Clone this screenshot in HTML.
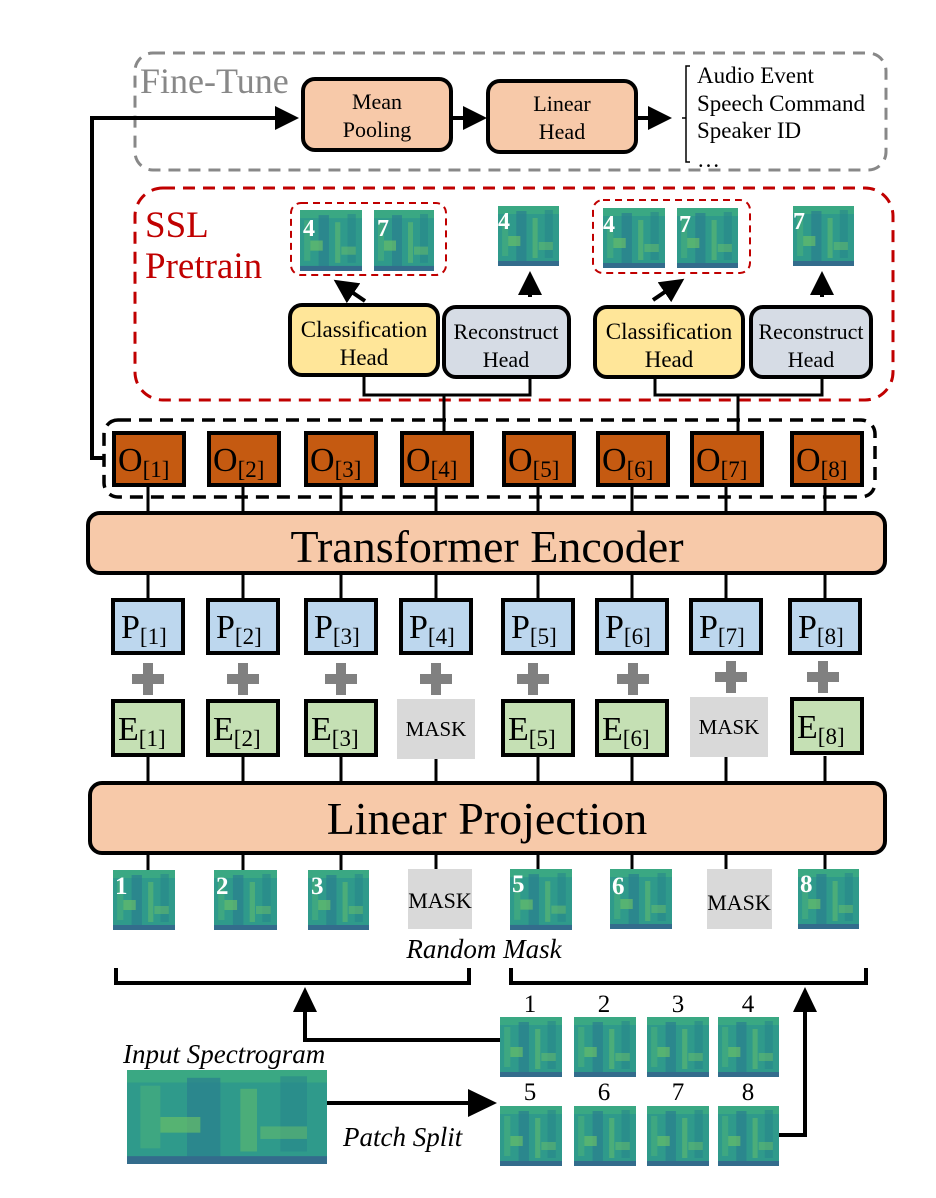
<!DOCTYPE html>
<html><head><meta charset="utf-8"><style>
html,body{margin:0;padding:0;background:#fff}
svg{display:block}
text{font-family:"Liberation Serif",serif}
</style></head><body>
<svg width="936" height="1198" viewBox="0 0 936 1198" xmlns="http://www.w3.org/2000/svg">
<defs>
<symbol id="sp" viewBox="0 0 60 60" preserveAspectRatio="none">
<rect width="60" height="60" fill="#2f9a8b"/>
<rect x="0" y="0" width="60" height="8" fill="#3aa883"/>
<rect x="4" y="10" width="6" height="40" fill="#45ad7e" opacity=".7"/>
<rect x="18" y="5" width="10" height="50" fill="#2a7f8e" opacity=".7"/>
<rect x="34" y="12" width="5" height="40" fill="#5fbb6e" opacity=".6"/>
<rect x="46" y="4" width="8" height="48" fill="#28878c" opacity=".6"/>
<rect x="10" y="30" width="12" height="10" fill="#72c463" opacity=".6"/>
<rect x="40" y="36" width="14" height="8" fill="#6cc067" opacity=".5"/>
<rect x="0" y="55" width="60" height="5" fill="#35588d" opacity=".7"/>
</symbol>
<marker id="ah" markerWidth="6" markerHeight="6" refX="5" refY="3" orient="auto" markerUnits="strokeWidth"><path d="M0,0 L6,3 L0,6 z" fill="#000"/></marker>
</defs>

<!-- Fine-tune -->
<rect x="135" y="53" width="751" height="117" rx="18" fill="none" stroke="#888" stroke-width="3" stroke-dasharray="12,8"/>
<text x="140" y="93" font-size="36" fill="#888">Fine-Tune</text>
<rect x="303" y="79" width="148" height="71" rx="12" fill="#f7c9a9" stroke="#000" stroke-width="4"/>
<text x="377" y="109" font-size="22" text-anchor="middle">Mean</text>
<text x="377" y="137" font-size="22" text-anchor="middle">Pooling</text>
<rect x="488" y="81" width="148" height="71" rx="12" fill="#f7c9a9" stroke="#000" stroke-width="4"/>
<text x="562" y="111" font-size="22" text-anchor="middle">Linear</text>
<text x="562" y="139" font-size="22" text-anchor="middle">Head</text>
<line x1="451" y1="118" x2="483" y2="118" stroke="#000" stroke-width="4" marker-end="url(#ah)"/>
<line x1="636" y1="118" x2="668" y2="118" stroke="#000" stroke-width="4" marker-end="url(#ah)"/>
<path d="M690,66 L686,66 L686,162 L690,162" fill="none" stroke="#000" stroke-width="1.5"/>
<line x1="682" y1="118" x2="686" y2="118" stroke="#000" stroke-width="1.5"/>
<text x="697" y="83" font-size="23">Audio Event</text>
<text x="697" y="111" font-size="23">Speech Command</text>
<text x="697" y="138" font-size="23">Speaker ID</text>
<text x="697" y="167" font-size="23">…</text>
<polyline points="104,458 92,458 92,118 295,118" fill="none" stroke="#000" stroke-width="4" marker-end="url(#ah)"/>

<!-- SSL -->
<rect x="135" y="188" width="758" height="212" rx="28" fill="none" stroke="#c00000" stroke-width="3" stroke-dasharray="12,8"/>
<text x="145" y="237" font-size="37" fill="#c00000">SSL</text>
<text x="145" y="278" font-size="37" fill="#c00000">Pretrain</text>
<rect x="291" y="203" width="155" height="72" rx="10" fill="none" stroke="#c00000" stroke-width="2" stroke-dasharray="7,5"/>
<use href="#sp" x="300" y="210" width="62" height="61"/>
<use href="#sp" x="374" y="210" width="60" height="61"/>
<rect x="593" y="200" width="157" height="73" rx="10" fill="none" stroke="#c00000" stroke-width="2" stroke-dasharray="7,5"/>
<use href="#sp" x="603" y="208" width="62" height="60"/>
<use href="#sp" x="677" y="208" width="61" height="60"/>
<use href="#sp" x="498" y="206" width="61" height="60"/>
<use href="#sp" x="793" y="206" width="61" height="60"/>
<g font-size="24" font-weight="bold" fill="#fff">
<text x="303" y="236">4</text><text x="377" y="236">7</text>
<text x="498" y="229">4</text><text x="603" y="232">4</text>
<text x="679" y="232">7</text><text x="793" y="229">7</text>
</g>
<line x1="365" y1="301" x2="337" y2="282" stroke="#000" stroke-width="4" marker-end="url(#ah)"/>
<line x1="530" y1="297" x2="530" y2="275" stroke="#000" stroke-width="4" marker-end="url(#ah)"/>
<line x1="653" y1="300" x2="681" y2="281" stroke="#000" stroke-width="4" marker-end="url(#ah)"/>
<line x1="822" y1="297" x2="822" y2="275" stroke="#000" stroke-width="4" marker-end="url(#ah)"/>
<polyline points="364,377 364,395 530,395 530,377" fill="none" stroke="#000" stroke-width="3"/>
<line x1="444" y1="395" x2="444" y2="432" stroke="#000" stroke-width="3"/>
<polyline points="655,377 655,395 822,395 822,377" fill="none" stroke="#000" stroke-width="3"/>
<line x1="738" y1="395" x2="738" y2="432" stroke="#000" stroke-width="3"/>
<rect x="290" y="305" width="148" height="70" rx="12" fill="#ffe699" stroke="#000" stroke-width="4"/>
<text x="364" y="337" font-size="23" text-anchor="middle">Classification</text>
<text x="364" y="365" font-size="23" text-anchor="middle">Head</text>
<rect x="444" y="307" width="125" height="70" rx="12" fill="#d6dce5" stroke="#000" stroke-width="4"/>
<text x="506" y="339" font-size="22" text-anchor="middle">Reconstruct</text>
<text x="506" y="367" font-size="22" text-anchor="middle">Head</text>
<rect x="595" y="307" width="148" height="70" rx="12" fill="#ffe699" stroke="#000" stroke-width="4"/>
<text x="669" y="339" font-size="23" text-anchor="middle">Classification</text>
<text x="669" y="367" font-size="23" text-anchor="middle">Head</text>
<rect x="751" y="307" width="120" height="70" rx="12" fill="#d6dce5" stroke="#000" stroke-width="4"/>
<text x="811" y="339" font-size="22" text-anchor="middle">Reconstruct</text>
<text x="811" y="367" font-size="22" text-anchor="middle">Head</text>

<!-- O dashed -->
<rect x="104" y="420" width="771" height="77" rx="14" fill="none" stroke="#000" stroke-width="3.5" stroke-dasharray="13,8"/>

<!-- vertical connectors -->
<g stroke="#000" stroke-width="3">
<line x1="148" y1="485" x2="148" y2="600"/><line x1="243" y1="485" x2="243" y2="600"/>
<line x1="341" y1="485" x2="341" y2="600"/><line x1="436" y1="485" x2="436" y2="600"/>
<line x1="538" y1="485" x2="538" y2="600"/><line x1="632" y1="485" x2="632" y2="600"/>
<line x1="726" y1="485" x2="726" y2="600"/><line x1="825" y1="485" x2="825" y2="600"/>
<line x1="148" y1="756" x2="148" y2="870"/><line x1="243" y1="756" x2="243" y2="870"/>
<line x1="341" y1="756" x2="341" y2="870"/><line x1="436" y1="756" x2="436" y2="870"/>
<line x1="538" y1="756" x2="538" y2="870"/><line x1="632" y1="756" x2="632" y2="870"/>
<line x1="726" y1="756" x2="726" y2="870"/><line x1="825" y1="756" x2="825" y2="870"/>
</g>

<!-- O boxes -->
<g stroke="#000" stroke-width="4" fill="#c55a11">
<rect x="114" y="433" width="70" height="52"/><rect x="209" y="433" width="70" height="52"/>
<rect x="306" y="433" width="70" height="52"/><rect x="402" y="433" width="70" height="52"/>
<rect x="504" y="433" width="70" height="52"/><rect x="598" y="433" width="70" height="52"/>
<rect x="692" y="433" width="70" height="52"/><rect x="792" y="433" width="70" height="52"/>
</g>
<g font-size="34">
<text x="118" y="471">O<tspan font-size="23" dy="6">[1]</tspan></text>
<text x="213" y="471">O<tspan font-size="23" dy="6">[2]</tspan></text>
<text x="310" y="471">O<tspan font-size="23" dy="6">[3]</tspan></text>
<text x="406" y="471">O<tspan font-size="23" dy="6">[4]</tspan></text>
<text x="508" y="471">O<tspan font-size="23" dy="6">[5]</tspan></text>
<text x="602" y="471">O<tspan font-size="23" dy="6">[6]</tspan></text>
<text x="696" y="471">O<tspan font-size="23" dy="6">[7]</tspan></text>
<text x="796" y="471">O<tspan font-size="23" dy="6">[8]</tspan></text>
</g>

<!-- Transformer -->
<rect x="88" y="513" width="797" height="60" rx="12" fill="#f7c9a9" stroke="#000" stroke-width="4"/>
<text x="487" y="562" font-size="46" text-anchor="middle">Transformer Encoder</text>

<!-- P boxes -->
<g stroke="#000" stroke-width="4" fill="#bdd7ee">
<rect x="113" y="600" width="70" height="53"/><rect x="208" y="600" width="70" height="53"/>
<rect x="306" y="600" width="70" height="53"/><rect x="401" y="600" width="70" height="53"/>
<rect x="503" y="600" width="70" height="53"/><rect x="597" y="600" width="70" height="53"/>
<rect x="691" y="600" width="70" height="53"/><rect x="790" y="600" width="70" height="53"/>
</g>
<g font-size="34">
<text x="121" y="638">P<tspan font-size="23" dy="6">[1]</tspan></text>
<text x="216" y="638">P<tspan font-size="23" dy="6">[2]</tspan></text>
<text x="314" y="638">P<tspan font-size="23" dy="6">[3]</tspan></text>
<text x="409" y="638">P<tspan font-size="23" dy="6">[4]</tspan></text>
<text x="511" y="638">P<tspan font-size="23" dy="6">[5]</tspan></text>
<text x="605" y="638">P<tspan font-size="23" dy="6">[6]</tspan></text>
<text x="699" y="638">P<tspan font-size="23" dy="6">[7]</tspan></text>
<text x="798" y="638">P<tspan font-size="23" dy="6">[8]</tspan></text>
</g>

<!-- plus signs -->
<g fill="#808080">
<g transform="translate(148,679)"><rect x="-16" y="-5" width="32" height="10"/><rect x="-5" y="-16" width="10" height="32"/></g>
<g transform="translate(243,679)"><rect x="-16" y="-5" width="32" height="10"/><rect x="-5" y="-16" width="10" height="32"/></g>
<g transform="translate(341,679)"><rect x="-16" y="-5" width="32" height="10"/><rect x="-5" y="-16" width="10" height="32"/></g>
<g transform="translate(436,679)"><rect x="-16" y="-5" width="32" height="10"/><rect x="-5" y="-16" width="10" height="32"/></g>
<g transform="translate(533,679)"><rect x="-16" y="-5" width="32" height="10"/><rect x="-5" y="-16" width="10" height="32"/></g>
<g transform="translate(633,679)"><rect x="-16" y="-5" width="32" height="10"/><rect x="-5" y="-16" width="10" height="32"/></g>
<g transform="translate(731,677)"><rect x="-16" y="-5" width="32" height="10"/><rect x="-5" y="-16" width="10" height="32"/></g>
<g transform="translate(823,677)"><rect x="-16" y="-5" width="32" height="10"/><rect x="-5" y="-16" width="10" height="32"/></g>
</g>

<!-- E boxes -->
<g stroke="#000" stroke-width="4" fill="#c5e0b4">
<rect x="113" y="701" width="70" height="54"/><rect x="208" y="701" width="70" height="54"/>
<rect x="306" y="701" width="70" height="54"/>
<rect x="503" y="701" width="70" height="54"/><rect x="597" y="701" width="70" height="54"/>
<rect x="792" y="699" width="70" height="54"/>
</g>
<rect x="397" y="699" width="78" height="60" fill="#d9d9d9"/>
<rect x="690" y="697" width="78" height="60" fill="#d9d9d9"/>
<text x="436" y="736" font-size="21" text-anchor="middle">MASK</text>
<text x="729" y="734" font-size="21" text-anchor="middle">MASK</text>
<g font-size="34">
<text x="118" y="740">E<tspan font-size="23" dy="6">[1]</tspan></text>
<text x="213" y="740">E<tspan font-size="23" dy="6">[2]</tspan></text>
<text x="311" y="740">E<tspan font-size="23" dy="6">[3]</tspan></text>
<text x="508" y="740">E<tspan font-size="23" dy="6">[5]</tspan></text>
<text x="602" y="740">E<tspan font-size="23" dy="6">[6]</tspan></text>
<text x="797" y="738">E<tspan font-size="23" dy="6">[8]</tspan></text>
</g>

<!-- Linear Projection -->
<rect x="90" y="783" width="795" height="70" rx="12" fill="#f7c9a9" stroke="#000" stroke-width="4"/>
<text x="487" y="834" font-size="46" text-anchor="middle">Linear Projection</text>

<!-- patch row -->
<use href="#sp" x="113" y="870" width="62" height="60"/>
<use href="#sp" x="214" y="870" width="63" height="60"/>
<use href="#sp" x="308" y="870" width="61" height="60"/>
<rect x="408" y="869" width="64" height="60" fill="#d9d9d9"/>
<text x="440" y="908" font-size="22" text-anchor="middle">MASK</text>
<use href="#sp" x="510" y="869" width="62" height="61"/>
<use href="#sp" x="610" y="869" width="62" height="60"/>
<rect x="707" y="869" width="65" height="60" fill="#d9d9d9"/>
<text x="739" y="910" font-size="22" text-anchor="middle">MASK</text>
<use href="#sp" x="798" y="869" width="61" height="60"/>
<g font-size="25" font-weight="bold" fill="#fff">
<text x="115" y="894">1</text><text x="216" y="894">2</text><text x="311" y="894">3</text>
<text x="512" y="892">5</text><text x="612" y="894">6</text><text x="800" y="892">8</text>
</g>
<text x="484" y="958" font-size="27" font-style="italic" text-anchor="middle">Random Mask</text>
<polyline points="116,968 116,983 469,983 469,968" fill="none" stroke="#000" stroke-width="4"/>
<polyline points="511,968 511,983 866,983 866,968" fill="none" stroke="#000" stroke-width="4"/>

<!-- bottom arrows -->
<polyline points="500,1040 305,1040 305,1010" fill="none" stroke="#000" stroke-width="4"/>
<polygon points="305,987 293,1012 317,1012" fill="#000"/>
<polyline points="779,1135 805,1135 805,1010" fill="none" stroke="#000" stroke-width="4"/>
<polygon points="805,987 793,1012 817,1012" fill="#000"/>
<line x1="327" y1="1103" x2="470" y2="1103" stroke="#000" stroke-width="4"/>
<polygon points="497,1103 468,1089 468,1117" fill="#000"/>

<!-- patch grid -->
<g font-size="25" text-anchor="middle">
<text x="530" y="1012">1</text><text x="604" y="1012">2</text><text x="678" y="1012">3</text><text x="748" y="1012">4</text>
<text x="530" y="1100">5</text><text x="604" y="1100">6</text><text x="678" y="1100">7</text><text x="748" y="1100">8</text>
</g>
<use href="#sp" x="500" y="1017" width="62" height="60"/>
<use href="#sp" x="574" y="1017" width="62" height="60"/>
<use href="#sp" x="647" y="1017" width="62" height="60"/>
<use href="#sp" x="718" y="1017" width="61" height="60"/>
<use href="#sp" x="500" y="1106" width="62" height="60"/>
<use href="#sp" x="574" y="1106" width="62" height="60"/>
<use href="#sp" x="647" y="1106" width="62" height="60"/>
<use href="#sp" x="718" y="1106" width="61" height="60"/>

<text x="123" y="1063" font-size="27" font-style="italic">Input Spectrogram</text>
<use href="#sp" x="127" y="1070" width="200" height="94"/>
<text x="343" y="1146" font-size="27" font-style="italic">Patch Split</text>
</svg>
</body></html>
